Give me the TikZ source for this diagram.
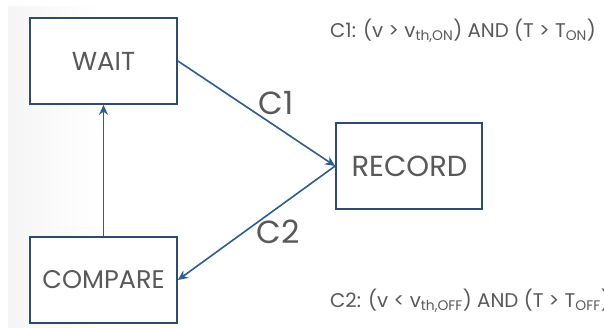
\documentclass[tikz,border=0pt]{standalone}
\usepackage{fontspec}
\setmainfont{Poppins}
\usetikzlibrary{arrows.meta}
\definecolor{txt}{HTML}{595959}
\definecolor{boxline}{HTML}{2F4B6E}
\definecolor{arrowline}{HTML}{2E5D8C}
\tikzset{
  statebox/.style={draw=boxline, line width=1.8pt, fill=white, minimum width=147pt, minimum height=86pt, inner sep=0pt, text=txt, font=\fontsize{26}{30}\selectfont},
  trans/.style={draw=arrowline, line width=1.6pt, -{Stealth[length=10pt,width=9pt]}},
  lbl/.style={text=txt, font=\fontsize{32}{36}\selectfont, inner sep=0pt},
  cond/.style={text=txt, font=\fontsize{19.8}{24}\selectfont, inner sep=0pt, anchor=west}
}
\begin{document}
\begin{tikzpicture}[x=1pt, y=-1pt]
  \useasboundingbox (0,0) rectangle (604,327);
  \fill[white] (0,0) rectangle (604,327);
  % faint grey band down the left side
  \shade[left color=black!4, right color=white] (8,6) rectangle (100,327);

  % states
  \node[statebox] (wait) at (103.5,61) {WAIT};
  \node[statebox, font=\fontsize{25.5}{30}\selectfont] (compare) at (103.5,280) {COMPARE};
  \node[statebox, minimum width=146pt, font=\fontsize{29}{34}\selectfont] (record) at (409,166) {\hspace*{1pt}RECORD};

  % transitions
  \draw[trans] (wait.east) -- (record.west);
  \draw[trans] (record.west) -- (compare.east);
  \draw[trans] (compare.north) -- (wait.south);

  % transition labels
  \node[lbl] (c1) at (276,103) {C1};
  \node[lbl] (c2) at (278,232) {C2};

  % conditions
  \node[cond] (cond1) at (330,31) {C1: (v > v\textsubscript{th,ON}) AND (T > T\textsubscript{ON})};
  \node[cond] (cond2) at (330,301) {C2: (v < v\textsubscript{th,OFF}) AND (T > T\textsubscript{OFF})};
\end{tikzpicture}
\end{document}
